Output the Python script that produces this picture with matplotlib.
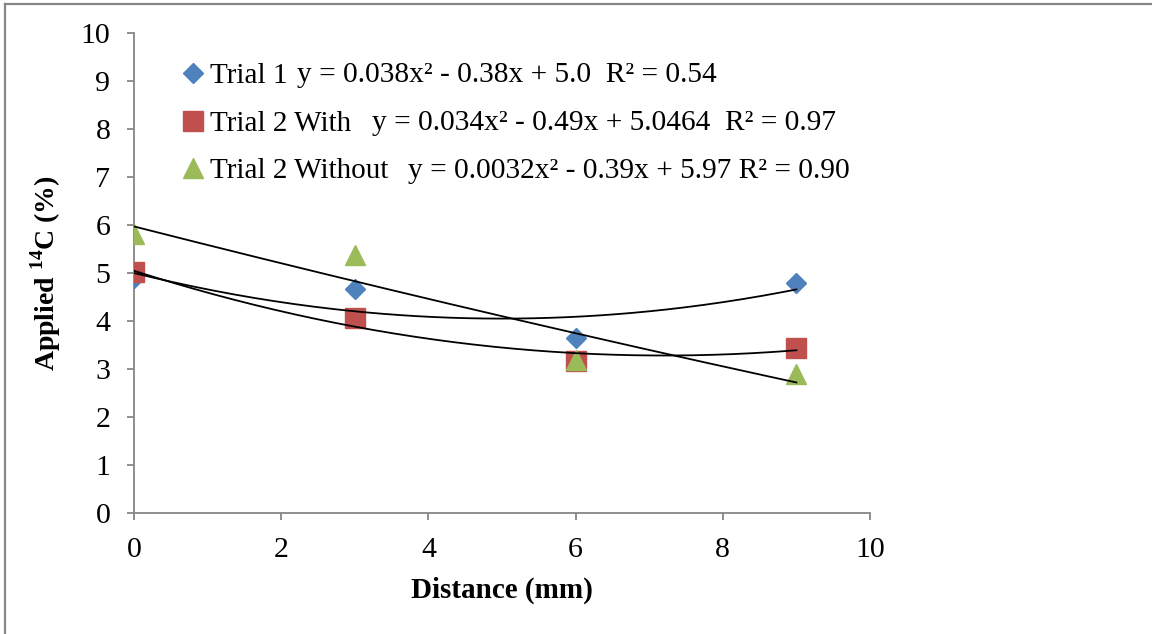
import matplotlib.pyplot as plt
from matplotlib.lines import Line2D
import numpy as np

plt.rcParams['font.family'] = ['Liberation Serif', 'DejaVu Serif']
plt.rcParams['mathtext.fontset'] = 'custom'
plt.rcParams['mathtext.rm'] = 'Liberation Serif'
plt.rcParams['mathtext.bf'] = 'Liberation Serif:bold'

distance = [0, 3, 6, 9]
trial1 = [4.90, 4.67, 3.65, 4.79]
trial2_with = [5.02, 4.06, 3.17, 3.44]
trial2_without = [5.81, 5.37, 3.19, 2.90]

# quadratic trendline coefficients (a, b, c) for y = a x^2 + b x + c
fit1 = [0.038, -0.38, 5.0]
fit2 = [0.034, -0.49, 5.0464]
fit3 = [0.0032, -0.39, 5.97]

eq_labels = ["y = 0.038x² - 0.38x + 5.0  R² = 0.54",
             "y = 0.034x² - 0.49x + 5.0464  R² = 0.97",
             "y = 0.0032x² - 0.39x + 5.97 R² = 0.90"]
series_names = ["Trial 1", "Trial 2 With", "Trial 2 Without"]

W, H = 1152, 634
fig = plt.figure(figsize=(W / 100, H / 100), dpi=100)
ax = fig.add_axes([134 / W, 1 - 513 / H, 736 / W, 480 / H])

grey = '#868686'
ax.plot(distance, trial1, 'D', color='#4F81BD', ms=10.5, label=series_names[0], zorder=3)
ax.plot(distance, trial2_with, 's', color='#C0504D', ms=14, label=series_names[1], zorder=3)
ax.plot(distance, trial2_without, '^', color='#9BBB59', ms=14, label=series_names[2], zorder=3)

xs = np.linspace(0, 9, 200)
for f in (fit1, fit2, fit3):
    ax.plot(xs, np.polyval(f, xs), color='black', lw=1.3, zorder=4)

ax.set_xlim(0, 10)
ax.set_ylim(0, 10)
ax.set_xticks(range(0, 11, 2))
ax.set_yticks(range(0, 11))
for s in ('top', 'right'):
    ax.spines[s].set_visible(False)
for s in ('left', 'bottom'):
    ax.spines[s].set_color(grey)
    ax.spines[s].set_linewidth(1.3)
ax.tick_params(direction='out', length=5, width=1.3, color=grey,
               labelsize=21.5, pad=12)

ax.set_xlabel("Distance (mm)", fontsize=21, fontweight='bold', labelpad=10)
ax.set_ylabel(r"Applied $^{\mathbf{14}}$C (%)", fontsize=20, fontweight='bold', labelpad=13)

leg = ax.legend(loc='upper left', bbox_to_anchor=(0.042, 0.962), frameon=False,
                fontsize=21, handletextpad=0.0, handlelength=1.15,
                labelspacing=0.72, borderaxespad=0)

eq_x = [297, 372, 408]
eq_y = [75, 123, 171]
for t, x, y in zip(eq_labels, eq_x, eq_y):
    fig.text(x / W, 1 - y / H, t, fontsize=21.2, va='center', ha='left')

# outer chart frame (top and left edges)
fig.add_artist(Line2D([5 / W, 5 / W], [0, 1 - 4 / H], color=grey, lw=1.6))
fig.add_artist(Line2D([5 / W, 1], [1 - 4 / H, 1 - 4 / H], color=grey, lw=1.6))

fig.savefig("out.png", dpi=100)
